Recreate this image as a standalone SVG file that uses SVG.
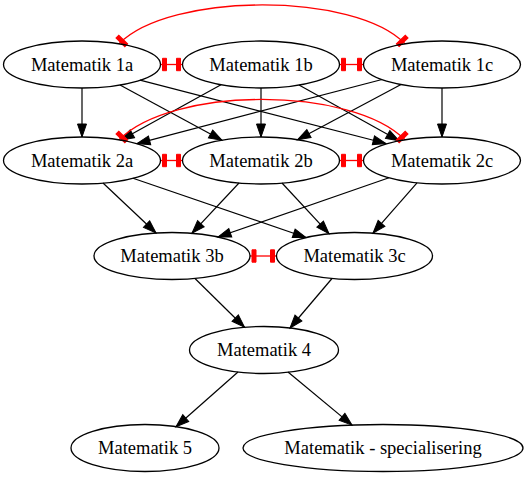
<svg xmlns="http://www.w3.org/2000/svg" width="528" height="478" viewBox="0 0 528 478">
<style>
.n ellipse{fill:none;stroke:#000;stroke-width:1.3}
.n text{font-family:"Liberation Serif","Times New Roman",serif;font-size:18.5px;text-anchor:middle;fill:#000}
.e{fill:none;stroke:#000;stroke-width:1.2;marker-end:url(#arr)}
.x{fill:none;stroke:#f00;stroke-width:1.3;marker-start:url(#tee);marker-end:url(#tee)}
</style>
<defs>
<marker id="arr" markerUnits="userSpaceOnUse" viewBox="-15 -10 20 20" markerWidth="20" markerHeight="20" refX="0" refY="0" orient="auto" overflow="visible"><path d="M-13,-4.5 L0,0 L-13,4.5 Z" fill="#000" stroke="#000" stroke-width="1"/></marker>
<marker id="tee" markerUnits="userSpaceOnUse" viewBox="-10 -10 20 20" markerWidth="20" markerHeight="20" refX="0" refY="0" orient="auto-start-reverse" overflow="visible"><path d="M-6,-6.2 L-2,-6.2 L-2,6.2 L-6,6.2 Z" fill="#f00" stroke="#f00" stroke-width="1"/></marker>
</defs>
<rect width="528" height="478" fill="#fff"/>
<g id="connectors">
<path class="e" d="M82,88 L82,137"/>
<path class="e" d="M120,85 L222,140.2"/>
<path class="e" d="M140,80.2 L386,143.5"/>
<path class="e" d="M221,84.7 L121,140"/>
<path class="e" d="M261,88 L261,137"/>
<path class="e" d="M299,85 L399,140.8"/>
<path class="e" d="M382,79.5 L137,143.6"/>
<path class="e" d="M401,84.5 L297.5,139.7"/>
<path class="e" d="M442,88 L442,137"/>
<path class="e" d="M103,183 L156,233"/>
<path class="e" d="M133,178.3 L306,237.5"/>
<path class="e" d="M239,183 L192,233.2"/>
<path class="e" d="M282,183 L329,233.7"/>
<path class="e" d="M389,177.7 L218,237"/>
<path class="e" d="M417,182.8 L373,233.2"/>
<path class="e" d="M195,278.5 L244.5,327.2"/>
<path class="e" d="M332,278.5 L290,328"/>
<path class="e" d="M238,372 L176,426.7"/>
<path class="e" d="M288,372 L352,425.1"/>
<path class="x" d="M160.5,64.5 L182.5,64.5"/>
<path class="x" d="M339.5,64.5 L363.5,64.5"/>
<path class="x" d="M160.5,160.5 L182.5,160.5"/>
<path class="x" d="M339.5,160.5 L363.5,160.5"/>
<path class="x" d="M250,256 L276.5,256"/>
<path class="x" d="M119,43.8 C170,-8 355,-8 405,43.8"/>
<path class="x" d="M119,139.8 C172,86 352,86 405,139.8"/>
</g>
<g id="m1a" class="n"><ellipse cx="82" cy="64.5" rx="78.5" ry="23.5"/><text x="82" y="70.8">Matematik 1a</text></g>
<g id="m1b" class="n"><ellipse cx="261" cy="64.5" rx="78.5" ry="23.5"/><text x="261" y="70.8">Matematik 1b</text></g>
<g id="m1c" class="n"><ellipse cx="442" cy="64.5" rx="78.5" ry="23.5"/><text x="442" y="70.8">Matematik 1c</text></g>
<g id="m2a" class="n"><ellipse cx="82" cy="160.5" rx="78.5" ry="23.5"/><text x="82" y="166.8">Matematik 2a</text></g>
<g id="m2b" class="n"><ellipse cx="261" cy="160.5" rx="78.5" ry="23.5"/><text x="261" y="166.8">Matematik 2b</text></g>
<g id="m2c" class="n"><ellipse cx="442" cy="160.5" rx="78.5" ry="23.5"/><text x="442" y="166.8">Matematik 2c</text></g>
<g id="m3b" class="n"><ellipse cx="172" cy="256" rx="78" ry="23.5"/><text x="172" y="262.3">Matematik 3b</text></g>
<g id="m3c" class="n"><ellipse cx="354.5" cy="256" rx="78" ry="23.5"/><text x="354.5" y="262.3">Matematik 3c</text></g>
<g id="m4" class="n"><ellipse cx="264" cy="350" rx="74.5" ry="23.5"/><text x="264" y="356.3">Matematik 4</text></g>
<g id="m5" class="n"><ellipse cx="145" cy="448" rx="74" ry="23.5"/><text x="145" y="454.3">Matematik 5</text></g>
<g id="mspec" class="n"><ellipse cx="383" cy="448" rx="140" ry="23.5"/><text x="383" y="454.3">Matematik - specialisering</text></g>
</svg>
